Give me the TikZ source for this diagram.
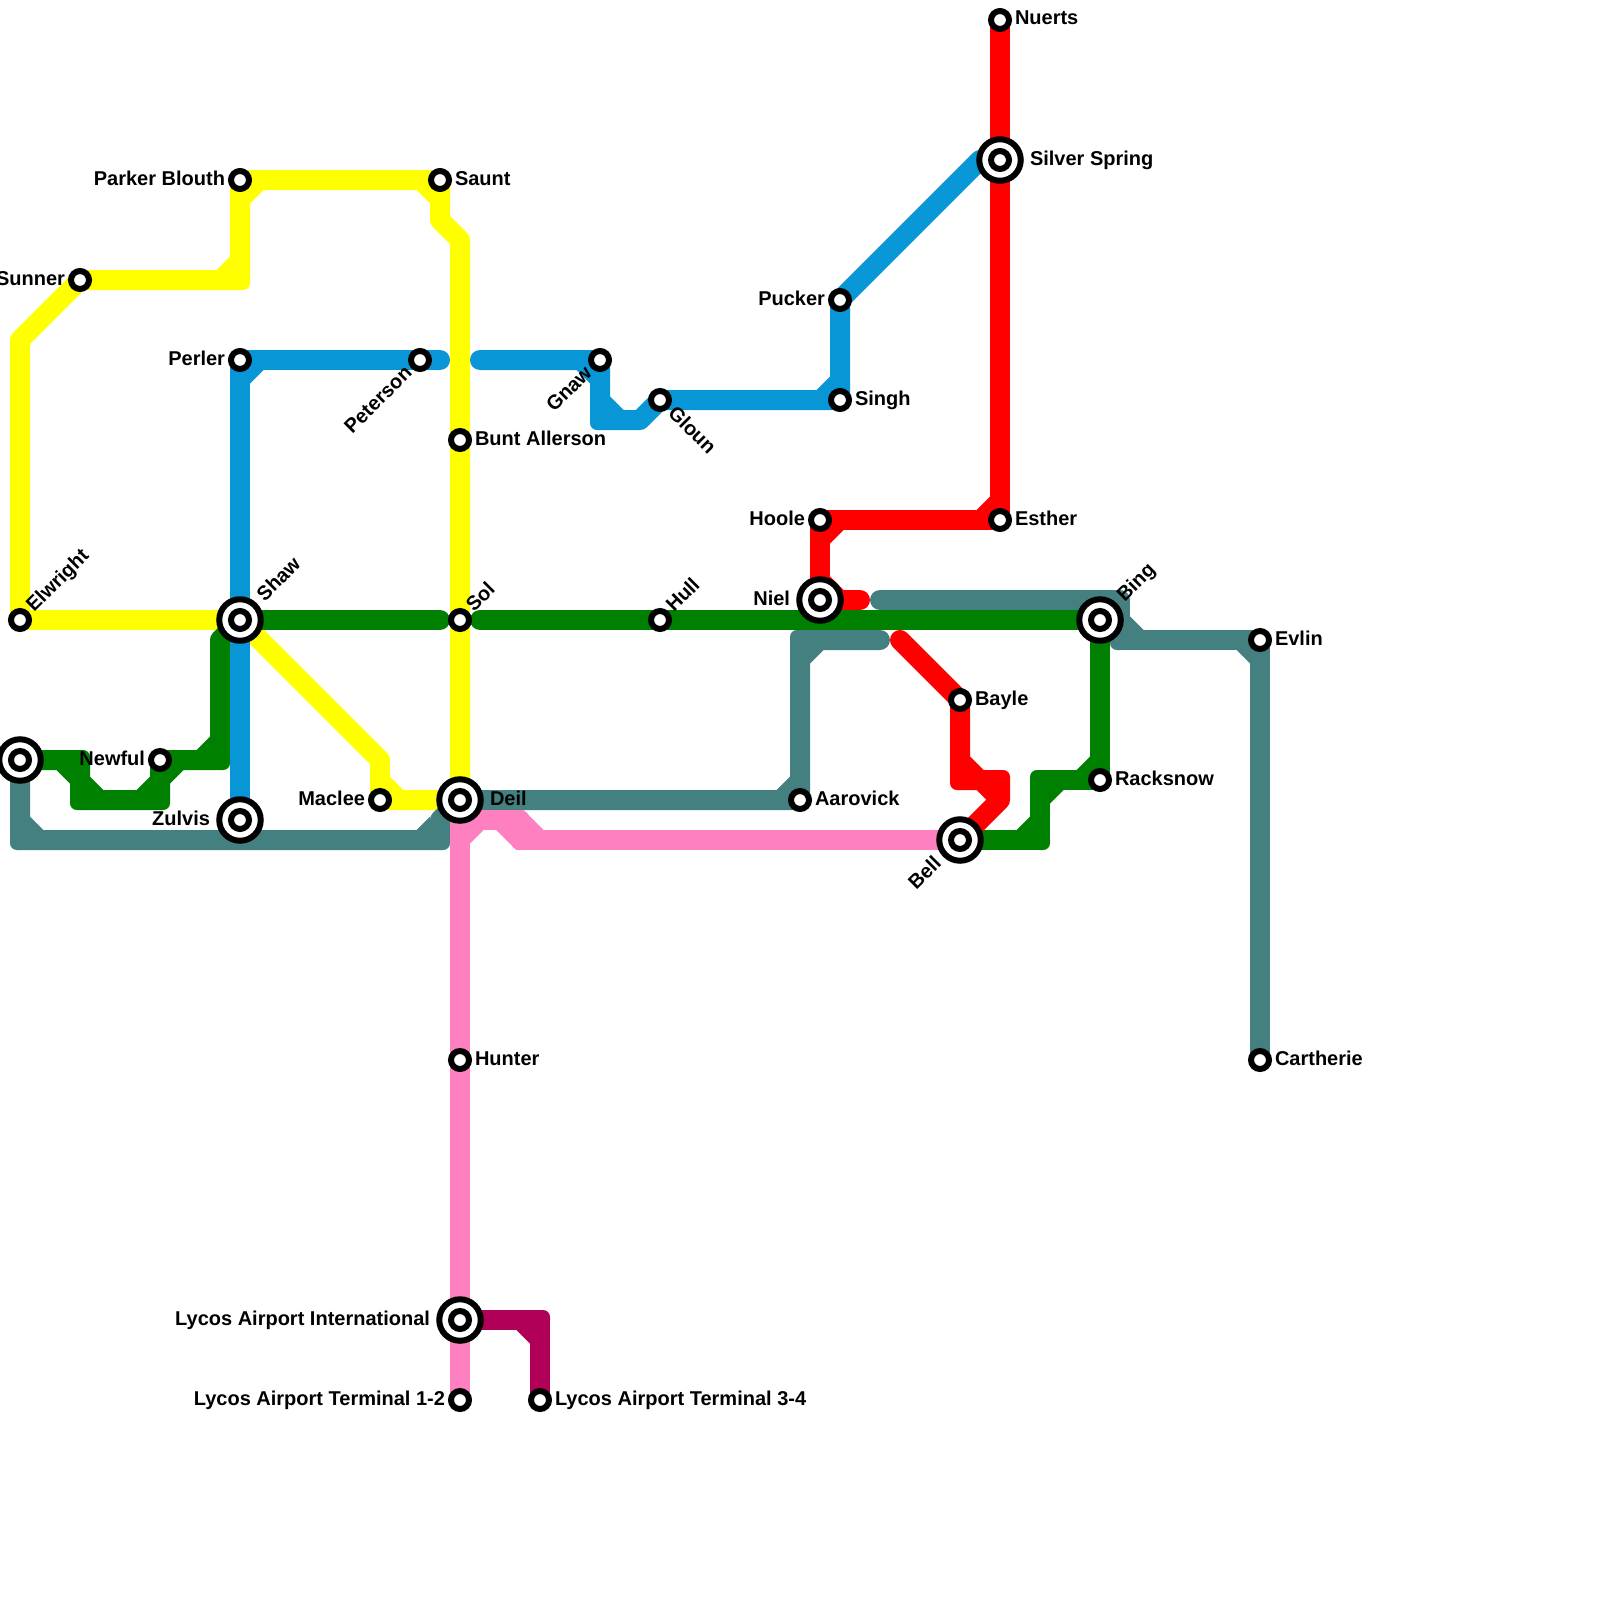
\documentclass[tikz,border=0pt]{standalone}
\usepackage{fontspec}
\setmainfont{Liberation Sans}
\usetikzlibrary{backgrounds}
\definecolor{lY}{HTML}{FFFF00}
\definecolor{lG}{HTML}{008000}
\definecolor{lB}{HTML}{0896D7}
\definecolor{lR}{HTML}{FF0000}
\definecolor{lT}{HTML}{448080}
\definecolor{lP}{HTML}{FF80C0}
\definecolor{lM}{HTML}{B10058}
\tikzset{
  x=1pt,y=-1pt,
  metro/.style={line width=20pt,line cap=round,line join=round},
  st/.style={circle,draw=black,fill=white,line width=6pt,minimum size=18pt,inner sep=0pt,outer sep=0pt},
  ic/.style={circle,draw=black,fill=white,line width=6pt,minimum size=41.5pt,inner sep=0pt,outer sep=0pt,
    path picture={\draw[black,line width=6pt,fill=white] (path picture bounding box.center) circle (9pt);}},
  tx/.style={inner sep=0pt,outer sep=0pt,font=\fontsize{20}{22}\selectfont\bfseries,text=black},
  lE/.style={tx,anchor=base west,xshift=15pt,yshift=-5pt},
  lW/.style={tx,anchor=base east,xshift=-15pt,yshift=-5pt},
  lEE/.style={tx,anchor=base west,xshift=30pt,yshift=-5pt},
  lWW/.style={tx,anchor=base east,xshift=-30pt,yshift=-5pt},
  lNE/.style={tx,rotate=45,anchor=base west,xshift=15pt,yshift=-5pt},
  lNEE/.style={tx,rotate=45,anchor=base west,xshift=30pt,yshift=-5pt},
  lSE/.style={tx,rotate=-45,anchor=base west,xshift=15pt,yshift=-5pt},
  lSW/.style={tx,rotate=45,anchor=base east,xshift=-15pt,yshift=-5pt},
  lSWW/.style={tx,rotate=45,anchor=base east,xshift=-30pt,yshift=-5pt},
}
% right-angle corner: x, y, and the inner quadrant (sx,sy)
% \chin chamfers the inside; \chmf also tightens the rounding of the outside
\newcommand\chin[4]{%
  \fill ({#1+10*(#3)},{#2+10*(#4)}) -- ++({13.5*(#3)},0) -- ++({-13.5*(#3)},{13.5*(#4)}) -- cycle;
}
\newcommand\chmf[4]{%
  \chin{#1}{#2}{#3}{#4}
  \fill (#1,#2) -- ({#1-10*(#3)},#2) -- ({#1-10*(#3)},{#2-3*(#4)})
    .. controls ({#1-10*(#3)},{#2-7*(#4)}) and ({#1-7*(#3)},{#2-10*(#4)}) .. ({#1-3*(#3)},{#2-10*(#4)})
    -- (#1,{#2-10*(#4)}) -- cycle;
}
\begin{document}
\begin{tikzpicture}
\path[use as bounding box] (0,0) rectangle (1600,1600);

% stations
\node[st] (nuerts) at (1000,20) {};
\node[ic] (silver) at (1000,160) {};
\node[st] (esther) at (1000,520) {};
\node[st] (hoole) at (820,520) {};
\node[ic] (niel) at (820,600) {};
\node[ic] (bing) at (1100,620) {};
\node[st] (evlin) at (1260,640) {};
\node[st] (carth) at (1260,1060) {};
\node[st] (bayle) at (960,700) {};
\node[st] (rack) at (1100,780) {};
\node[ic] (bell) at (960,840) {};
\node[st] (aaro) at (800,800) {};
\node[ic] (deil) at (460,800) {};
\node[st] (sol) at (460,620) {};
\node[st] (hull) at (660,620) {};
\node[ic] (shaw) at (240,620) {};
\node[st] (elw) at (20,620) {};
\node[ic] (zulvis) at (240,820) {};
\node[st] (newful) at (160,760) {};
\node[ic] (lft) at (20,760) {};
\node[st] (maclee) at (380,800) {};
\node[st] (saunt) at (440,180) {};
\node[st] (parker) at (240,180) {};
\node[st] (sunner) at (80,280) {};
\node[st] (perler) at (240,360) {};
\node[st] (peter) at (420,360) {};
\node[st] (gnaw) at (600,360) {};
\node[st] (gloun) at (660,400) {};
\node[st] (singh) at (840,400) {};
\node[st] (pucker) at (840,300) {};
\node[st] (bunt) at (460,440) {};
\node[st] (hunter) at (460,1060) {};
\node[ic] (lycos) at (460,1320) {};
\node[st] (tonetwo) at (460,1400) {};
\node[st] (tthree) at (540,1400) {};

% labels
\node[lE] (tNuerts) at (nuerts) {Nuerts};
\node[lEE] (tSilver) at (silver) {Silver Spring};
\node[lE] (tEsther) at (esther) {Esther};
\node[lW] (tHoole) at (hoole) {Hoole};
\node[lWW] (tNiel) at (niel) {Niel};
\node[lNEE] (tBing) at (bing) {Bing};
\node[lE] (tEvlin) at (evlin) {Evlin};
\node[lE] (tCarth) at (carth) {Cartherie};
\node[lE] (tBayle) at (bayle) {Bayle};
\node[lE] (tRack) at (rack) {Racksnow};
\node[lSWW] (tBell) at (bell) {Bell};
\node[lE] (tAaro) at (aaro) {Aarovick};
\node[lEE] (tDeil) at (deil) {Deil};
\node[lNE] (tSol) at (sol) {Sol};
\node[lNE] (tHull) at (hull) {Hull};
\node[lNEE] (tShaw) at (shaw) {Shaw};
\node[lNE] (tElw) at (elw) {Elwright};
\node[lWW] (tZulvis) at (zulvis) {Zulvis};
\node[lW] (tNewful) at (newful) {Newful};
\node[lW] (tMaclee) at (maclee) {Maclee};
\node[lE] (tSaunt) at (saunt) {Saunt};
\node[lW] (tParker) at (parker) {Parker Blouth};
\node[lW] (tSunner) at (sunner) {Sunner};
\node[lW] (tPerler) at (perler) {Perler};
\node[lSW] (tPeter) at (peter) {Peterson};
\node[lSW] (tGnaw) at (gnaw) {Gnaw};
\node[lSE] (tGloun) at (gloun) {Gloun};
\node[lE] (tSingh) at (singh) {Singh};
\node[lW] (tPucker) at (pucker) {Pucker};
\node[lE] (tBunt) at (bunt) {Bunt Allerson};
\node[lE] (tHunter) at (hunter) {Hunter};
\node[lWW] (tLycos) at (lycos) {Lycos Airport International};
\node[lW] (tOne) at (tonetwo) {Lycos Airport Terminal 1-2};
\node[lE] (tThree) at (tthree) {Lycos Airport Terminal 3-4};

% bends and free ends
\coordinate (ya) at (20,340);
\coordinate (yb) at (240,280);
\coordinate (yc) at (440,220);
\coordinate (yd) at (460,240);
\coordinate (ye) at (380,760);
\coordinate (ga) at (80,760);
\coordinate (gb) at (80,800);
\coordinate (gc) at (160,800);
\coordinate (gd) at (220,760);
\coordinate (ge) at (220,640);
\coordinate (gf) at (440,620);
\coordinate (gg) at (480,620);
\coordinate (gh) at (1040,780);
\coordinate (gi) at (1040,840);
\coordinate (ba) at (440,360);
\coordinate (bb) at (480,360);
\coordinate (bc) at (600,420);
\coordinate (bd) at (640,420);
\coordinate (be) at (980,160);
\coordinate (ra) at (860,600);
\coordinate (rb) at (900,640);
\coordinate (rc) at (960,780);
\coordinate (rd) at (1000,780);
\coordinate (re) at (1000,800);
\coordinate (ta) at (20,840);
\coordinate (tb) at (440,840);
\coordinate (tc) at (440,820);
\coordinate (td) at (800,640);
\coordinate (te) at (880,640);
\coordinate (tf) at (880,600);
\coordinate (tg) at (1120,600);
\coordinate (th) at (1120,640);
\coordinate (pa) at (460,820);
\coordinate (pb) at (520,820);
\coordinate (pc) at (520,840);
\coordinate (ma) at (540,1320);

\begin{pgfonlayer}{background}
\fill[white] (0,0) rectangle (1600,1600);
% yellow
\begin{scope}[color=lY]
\draw[metro] (elw.center) -- (ya) -- (sunner.center) -- (yb) -- (parker.center) -- (saunt.center) -- (yc) -- (yd) -- (bunt.center) -- (sol.center) -- (deil.center);
\draw[metro] (elw.center) -- (shaw.center);
\draw[metro] (shaw.center) -- (ye) -- (maclee.center) -- (deil.center);
\chmf{240}{280}{-1}{-1}
\chmf{240}{180}{1}{1}
\chmf{440}{180}{-1}{1}
\chmf{380}{800}{1}{-1}
\end{scope}
% green
\begin{scope}[color=lG]
\draw[metro] (lft.center) -- (ga) -- (gb) -- (gc) -- (newful.center) -- (gd) -- (ge) -- (shaw.center);
\draw[metro] (shaw.center) -- (gf);
\draw[metro] (gg) -- (hull.center) -- (bing.center) -- (rack.center) -- (gh) -- (gi) -- (bell.center);
\chmf{80}{760}{-1}{1}
\chmf{80}{800}{1}{-1}
\chmf{160}{800}{-1}{-1}
\chmf{160}{760}{1}{1}
\chmf{220}{760}{-1}{-1}
\chmf{1100}{780}{-1}{-1}
\chmf{1040}{780}{1}{1}
\chmf{1040}{840}{-1}{-1}
\end{scope}
% blue
\begin{scope}[color=lB]
\draw[metro] (zulvis.center) -- (perler.center) -- (peter.center) -- (ba);
\draw[metro] (bb) -- (gnaw.center) -- (bc) -- (bd) -- (gloun.center) -- (singh.center) -- (pucker.center) -- (be) -- (silver.center);
\chmf{240}{360}{1}{1}
\chmf{600}{360}{-1}{1}
\chmf{600}{420}{1}{-1}
\chmf{840}{400}{-1}{-1}
\end{scope}
% red
\begin{scope}[color=lR]
\draw[metro] (nuerts.center) -- (silver.center) -- (esther.center) -- (hoole.center) -- (niel.center) -- (ra);
\draw[metro] (rb) -- (bayle.center) -- (rc) -- (rd) -- (re) -- (bell.center);
\chmf{1000}{520}{-1}{-1}
\chmf{820}{520}{1}{1}
\chmf{820}{600}{1}{-1}
\chmf{960}{780}{1}{-1}
\chmf{1000}{780}{-1}{1}
\end{scope}
% teal
\begin{scope}[color=lT]
\draw[metro] (lft.center) -- (ta) -- (tb) -- (tc) -- (deil.center) -- (aaro.center) -- (td) -- (te);
\draw[metro] (tf) -- (tg) -- (th) -- (evlin.center) -- (carth.center);
\chmf{20}{840}{1}{-1}
\chmf{440}{840}{-1}{-1}
\chmf{800}{800}{-1}{-1}
\chmf{800}{640}{1}{1}
\chmf{1120}{640}{1}{-1}
\chmf{1260}{640}{-1}{1}
\end{scope}
% pink
\begin{scope}[color=lP]
\draw[metro] (tonetwo.center) -- (lycos.center) -- (hunter.center) -- (pa) -- (pb) -- (pc) -- (bell.center);
\chmf{460}{820}{1}{1}
\chin{520}{820}{-1}{1}
\chin{520}{840}{1}{-1}
\fill (496.5,830) -- (516.5,850) -- (520,850) -- (520,830) -- cycle;
\fill (543.5,830) -- (523.5,810) -- (520,810) -- (520,830) -- cycle;
\end{scope}
% maroon
\begin{scope}[color=lM]
\draw[metro] (lycos.center) -- (ma) -- (tthree.center);
\chmf{540}{1320}{-1}{1}
\end{scope}
\end{pgfonlayer}
\end{tikzpicture}
\end{document}
